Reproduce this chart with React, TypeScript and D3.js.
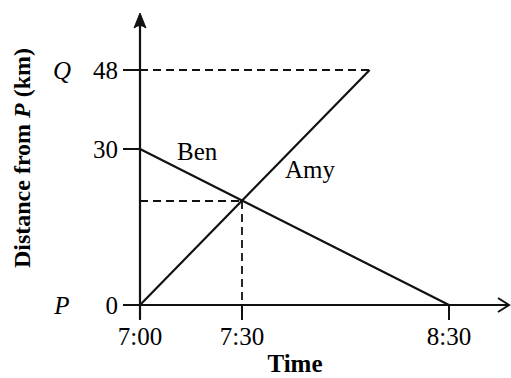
import React from "react";
import * as d3 from "d3";

// Data (time in minutes after 7:00, distance in km)
const benTimes = [0, 90];
const benDist = [30, 0];
const amyTimes = [0, 67];
const amyDist = [0, 48];
const meetTime = 30;
const meetDist = 20;
const xTicks = [0, 30, 90];
const xTickLabels = ["7:00", "7:30", "8:30"];
const yTicks = [0, 30, 48];
const yTickLabels = ["0", "30", "48"];
const yPlaceLabels = ["P", "", "Q"];

const W = 511;
const H = 378;
const FONT = "'Liberation Serif', 'Times New Roman', serif";

export default function App() {
  const x = d3.scaleLinear().domain([0, 30, 90]).range([140, 242, 449]);
  // diagram is not drawn to scale: piecewise vertical scale
  const y = d3.scaleLinear().domain([0, 20, 30, 48]).range([305, 201, 149, 70]);
  const line = d3
    .line<[number, number]>()
    .x((d) => x(d[0]))
    .y((d) => y(d[1]));
  const ben = benTimes.map((t, i) => [t, benDist[i]] as [number, number]);
  const amy = amyTimes.map((t, i) => [t, amyDist[i]] as [number, number]);
  const x0 = x(0);
  const y0 = y(0);
  const axisTop = 13;
  const axisRight = 509;
  const stroke = "#111";

  return (
    <svg
      width={W}
      height={H}
      style={{ position: "absolute", left: 0, top: 0, background: "#fff" }}
      fontFamily={FONT}
    >
      {/* dashed guides */}
      <line x1={x0} x2={x(amyTimes[1])} y1={y(48)} y2={y(48)} stroke={stroke} strokeWidth={1.8} strokeDasharray="8,5" />
      <line x1={x0} x2={x(meetTime)} y1={y(meetDist)} y2={y(meetDist)} stroke={stroke} strokeWidth={1.8} strokeDasharray="8,5" />
      <line x1={x(meetTime)} x2={x(meetTime)} y1={y(meetDist)} y2={y0} stroke={stroke} strokeWidth={1.8} strokeDasharray="8,5" />

      {/* axes */}
      <line x1={x0} x2={x0} y1={y0 + 14} y2={axisTop + 2} stroke={stroke} strokeWidth={2.2} />
      <line x1={x0 - 17} x2={axisRight - 1} y1={y0} y2={y0} stroke={stroke} strokeWidth={2.2} />
      <path
        d={`M${x0},${axisTop} L${x0 - 6},${axisTop + 15} Q${x0},${axisTop + 10} ${x0 + 6},${axisTop + 15} Z`}
        fill={stroke}
        stroke={stroke}
        strokeWidth={1}
        strokeLinejoin="round"
      />
      <path
        d={`M${axisRight - 11},${y0 - 7} L${axisRight},${y0} L${axisRight - 11},${y0 + 7}`}
        fill="none"
        stroke={stroke}
        strokeWidth={2}
      />

      {/* y ticks */}
      {yTicks.map((v, i) => (
        <g key={"y" + i}>
          <line x1={x0 - 17} x2={x0} y1={y(v)} y2={y(v)} stroke={stroke} strokeWidth={2} />
          <text x={x0 - 22} y={y(v) + 9} textAnchor="end" fontSize={25}>
            {yTickLabels[i]}
          </text>
          {yPlaceLabels[i] && (
            <text x={62} y={y(v) + 9} textAnchor="middle" fontSize={25} fontStyle="italic">
              {yPlaceLabels[i]}
            </text>
          )}
        </g>
      ))}

      {/* x ticks */}
      {xTicks.map((v, i) => (
        <g key={"x" + i}>
          <line x1={x(v)} x2={x(v)} y1={y0} y2={y0 + 15} stroke={stroke} strokeWidth={2} />
          <text x={x(v)} y={345} textAnchor="middle" fontSize={25}>
            {xTickLabels[i]}
          </text>
        </g>
      ))}

      {/* series */}
      <path d={line(ben) || ""} fill="none" stroke={stroke} strokeWidth={2.2} />
      <path d={line(amy) || ""} fill="none" stroke={stroke} strokeWidth={2.2} />
      <text x={177} y={160} fontSize={25}>Ben</text>
      <text x={285} y={178} fontSize={25}>Amy</text>

      {/* axis titles */}
      <text x={295} y={372} textAnchor="middle" fontSize={25} fontWeight="bold">
        Time
      </text>
      <text
        transform="translate(30,158) rotate(-90)"
        textAnchor="middle"
        fontSize={24}
        fontWeight="bold"
      >
        Distance from <tspan fontStyle="italic">P</tspan> (km)
      </text>
    </svg>
  );
}
